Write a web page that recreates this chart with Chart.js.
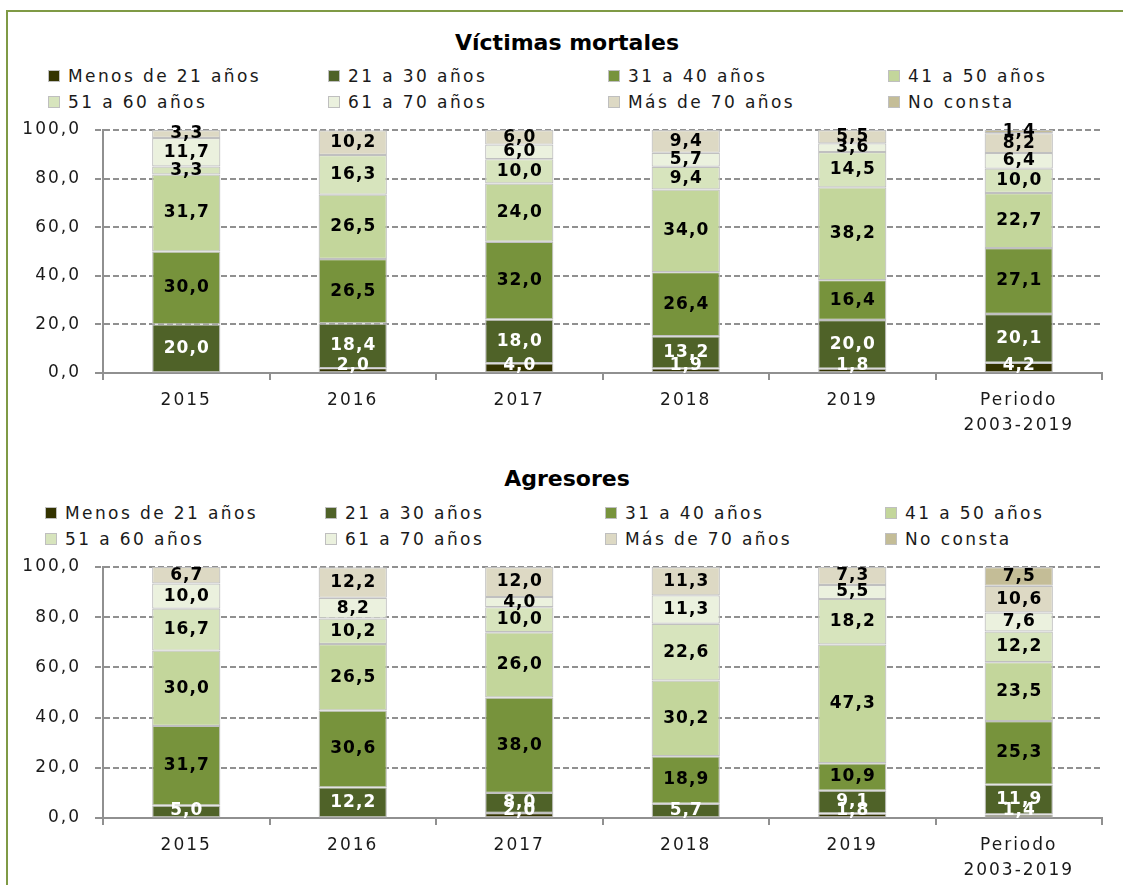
<!DOCTYPE html>
<html>
<head>
<meta charset="utf-8">
<script src="https://cdn.jsdelivr.net/npm/chart.js@4.4.1/dist/chart.umd.min.js"></script>
<style>
  html, body { margin: 0; padding: 0; background: #fff; }
  body { width: 1123px; height: 885px; position: relative; overflow: hidden; font-family: "DejaVu Sans", sans-serif; }
  .frame { position: absolute; left: 6px; top: 10px; width: 1400px; height: 1200px; border: 2px solid #7f9a45; }
  .title { position: absolute; left: 0; width: 1134px; text-align: center; font: bold 22px "DejaVu Sans"; line-height: 30px; color: #000; }
  .legend { position: absolute; display: grid; grid-template-columns: repeat(4, 280px); grid-auto-rows: 26px; font-size: 17px; letter-spacing: 2.4px; color: #1a1a1a; }
  .legend div { display: flex; align-items: center; white-space: nowrap; }
  .legend span.sw { width: 10px; height: 10px; border: 1px solid #bfbfbf; margin-right: 8px; flex: none; }
  .box { position: absolute; left: 0; width: 1123px; }
</style>
</head>
<body>
<div class="frame"></div>

<div class="title" style="top:28px">Víctimas mortales</div>
<div class="legend" id="legend1" style="left:48px; top:63px"></div>
<div class="box" style="top:115px; height:320px"><canvas id="chart1" width="1123" height="320"></canvas></div>

<div class="title" style="top:464px">Agresores</div>
<div class="legend" id="legend2" style="left:45px; top:500px"></div>
<div class="box" style="top:552px; height:333px"><canvas id="chart2" width="1123" height="333"></canvas></div>

<script>
const categories = ["2015", "2016", "2017", "2018", "2019", ["Periodo", "2003-2019"]];
const ageGroups = ["Menos de 21 años", "21 a 30 años", "31 a 40 años", "41 a 50 años",
                   "51 a 60 años", "61 a 70 años", "Más de 70 años", "No consta"];
const yTicks = [0, 20, 40, 60, 80, 100];

// Víctimas mortales (%)
const vicUnder21 = [null, 2.0, 4.0, 1.9, 1.8, 4.2];
const vic21to30 = [20.0, 18.4, 18.0, 13.2, 20.0, 20.1];
const vic31to40 = [30.0, 26.5, 32.0, 26.4, 16.4, 27.1];
const vic41to50 = [31.7, 26.5, 24.0, 34.0, 38.2, 22.7];
const vic51to60 = [3.3, 16.3, 10.0, 9.4, 14.5, 10.0];
const vic61to70 = [11.7, null, 6.0, 5.7, 3.6, 6.4];
const vicOver70 = [3.3, 10.2, 6.0, 9.4, 5.5, 8.2];
const vicUnknown = [null, null, null, null, null, 1.4];

// Agresores (%)
const agrUnder21 = [null, null, 2.0, null, 1.8, 1.4];
const agr21to30 = [5.0, 12.2, 8.0, 5.7, 9.1, 11.9];
const agr31to40 = [31.7, 30.6, 38.0, 18.9, 10.9, 25.3];
const agr41to50 = [30.0, 26.5, 26.0, 30.2, 47.3, 23.5];
const agr51to60 = [16.7, 10.2, 10.0, 22.6, 18.2, 12.2];
const agr61to70 = [10.0, 8.2, 4.0, 11.3, 5.5, 7.6];
const agrOver70 = [6.7, 12.2, 12.0, 11.3, 7.3, 10.6];
const agrUnknown = [null, null, null, null, null, 7.5];

const colors = ["#333300", "#4f6228", "#77933c", "#c3d69b", "#d7e4bd", "#ebf1de", "#ddd9c4", "#c4bd97"];

const fmt = v => v.toFixed(1).replace(".", ",");

// dashed horizontal grid lines, placed by the y scale
const dashedGrid = {
    id: "dashedGrid",
    beforeDatasetsDraw(chart) {
        const ctx = chart.ctx;
        const area = chart.chartArea;
        const scale = chart.scales.y;
        ctx.save();
        ctx.strokeStyle = "#909090";
        ctx.lineWidth = 2;
        yTicks.forEach(v => {
            const py = Math.round(scale.getPixelForValue(v));
            ctx.setLineDash(v === 0 ? [] : [6, 3]);
            ctx.beginPath();
            ctx.moveTo(area.left - 8, py);
            ctx.lineTo(v === 0 ? area.left : area.right, py);
            ctx.stroke();
        });
        ctx.restore();
    }
};

const valueLabels = {
    id: "valueLabels",
    afterDatasetsDraw(chart) {
        const ctx = chart.ctx;
        const area = chart.chartArea;
        ctx.save();
        ctx.beginPath();
        ctx.rect(0, 0, chart.width, area.bottom);
        ctx.clip();
        ctx.font = 'bold 17px "DejaVu Sans"';
        ctx.letterSpacing = "1px";
        ctx.textAlign = "center";
        ctx.textBaseline = "middle";
        chart.data.datasets.forEach((ds, i) => {
            chart.getDatasetMeta(i).data.forEach((bar, j) => {
                const v = ds.data[j];
                if (v == null) return;
                const y = Math.min((bar.y + bar.base) / 2, area.bottom - 7);
                ctx.fillStyle = i < 2 ? "#ffffff" : "#000000";
                ctx.fillText(fmt(v), bar.x + 0.5, y);
            });
        });
        ctx.restore();
    }
};

const spacing = {
    id: "spacing",
    beforeLayout(chart) { chart.ctx.letterSpacing = "2px"; },
    beforeDraw(chart) { chart.ctx.letterSpacing = "2px"; }
};

function noPad(s) {
    s.paddingTop = 0;
    s.paddingBottom = 0;
    s.paddingLeft = 0;
    s.paddingRight = 0;
}

function buildLegend(id) {
    const el = document.getElementById(id);
    ageGroups.forEach((name, i) => {
        const item = document.createElement("div");
        item.innerHTML = '<span class="sw" style="background:' + colors[i] + '"></span>' + name;
        el.appendChild(item);
    });
}

function createChart(id, series, axisHeight) {
    const ctx = document.getElementById(id).getContext("2d");
    return new Chart(ctx, {
        type: "bar",
        data: {
            labels: categories,
            datasets: series.map((d, i) => ({
                label: ageGroups[i],
                data: d,
                backgroundColor: colors[i],
                borderColor: "#c0c0c0",
                borderWidth: 1.2,
                borderSkipped: false,
                categoryPercentage: 1,
                barPercentage: 0.41
            }))
        },
        options: {
            responsive: false,
            animation: false,
            layout: { padding: { top: 15, right: 21, left: 0, bottom: 0 } },
            plugins: { legend: { display: false }, title: { display: false }, tooltip: { enabled: false } },
            scales: {
                x: {
                    stacked: true,
                    grid: { drawOnChartArea: false, color: "#909090", lineWidth: 2, tickLength: 7 },
                    border: { color: "#909090", width: 2 },
                    ticks: { color: "#1a1a1a", font: { family: "DejaVu Sans", size: 17, lineHeight: 25 / 17 }, padding: 8, maxRotation: 0 },
                    afterFit: s => { s.height = axisHeight; noPad(s); }
                },
                y: {
                    stacked: true,
                    min: 0,
                    max: 100,
                    afterBuildTicks: s => { s.ticks = yTicks.map(v => ({ value: v })); },
                    grid: { drawOnChartArea: false, drawTicks: false },
                    border: { color: "#909090", width: 2 },
                    ticks: { color: "#1a1a1a", font: { family: "DejaVu Sans", size: 17 }, padding: 22, callback: v => fmt(v) },
                    afterFit: s => { s.width = 103; noPad(s); }
                }
            }
        },
        plugins: [spacing, dashedGrid, valueLabels]
    });
}

buildLegend("legend1");
buildLegend("legend2");

const charts = {};
charts.victimas = createChart("chart1",
    [vicUnder21, vic21to30, vic31to40, vic41to50, vic51to60, vic61to70, vicOver70, vicUnknown], 62);
charts.agresores = createChart("chart2",
    [agrUnder21, agr21to30, agr31to40, agr41to50, agr51to60, agr61to70, agrOver70, agrUnknown], 67);
</script>
</body>
</html>
